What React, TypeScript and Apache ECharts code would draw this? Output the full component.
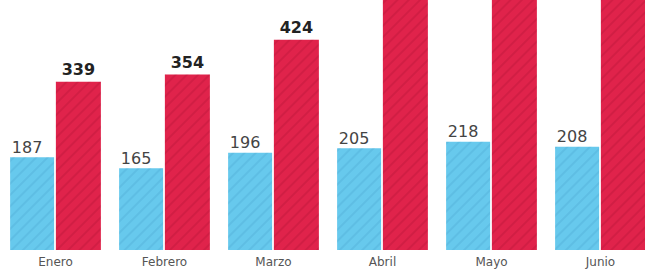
import React, { useEffect, useRef } from "react";
import * as echarts from "echarts";

const categories = ["Enero", "Febrero", "Marzo", "Abril", "Mayo", "Junio"];
const blueValues = [187, 165, 196, 205, 218, 208];
const redValues = [339, 354, 424, 530, 560, 545];
const redLabelShown = [true, true, true, false, false, false];

export default function App() {
  const ref = useRef<HTMLDivElement>(null);
  useEffect(() => {
    if (!ref.current) return;
    const chart = echarts.init(ref.current, null, { renderer: "svg" });
    const hatch = (color: string) => ({
      color,
      symbol: "rect",
      dashArrayX: [1, 0],
      dashArrayY: [2, 6],
      rotation: -Math.PI / 4,
      symbolSize: 1,
    });
    chart.setOption({
      animation: false,
      grid: { left: 1, top: 0, right: 1, bottom: 23, containLabel: false },
      xAxis: {
        type: "category",
        data: categories,
        axisLine: { show: false },
        axisTick: { show: false },
        axisLabel: {
          color: "#555",
          fontSize: 12,
          fontFamily: "DejaVu Sans",
          margin: 6,
        },
      },
      yAxis: {
        type: "value",
        min: 0,
        max: 504,
        show: false,
        splitLine: { show: false },
      },
      series: [
        {
          type: "bar",
          data: blueValues,
          barWidth: 44,
          barGap: "4%",
          itemStyle: { color: "#67c9ed", decal: hatch("rgba(40,120,170,0.14)") },
          label: {
            show: true,
            position: "top",
            distance: 2,
            offset: [-5, 0],
            color: "#444",
            fontSize: 16,
            fontFamily: "DejaVu Sans",
          },
        },
        {
          type: "bar",
          data: redValues.map((v, i) => ({
            value: v,
            label: { show: redLabelShown[i] },
          })),
          barWidth: 45,
          itemStyle: { color: "#e0234b", decal: hatch("rgba(120,0,30,0.14)") },
          label: {
            show: true,
            position: "top",
            distance: 4,
            color: "#222",
            fontSize: 16,
            fontWeight: "bold",
            fontFamily: "DejaVu Sans",
          },
        },
      ],
    });
    return () => chart.dispose();
  }, []);
  return (
    <div
      style={{
        position: "fixed",
        left: 0,
        top: 0,
        width: 645,
        height: 273,
        overflow: "hidden",
        background: "#fff",
      }}
    >
      <div ref={ref} style={{ width: 656, height: 273 }} />
    </div>
  );
}
